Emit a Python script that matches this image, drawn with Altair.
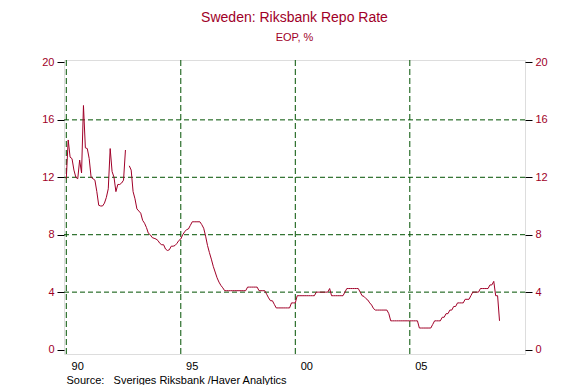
import altair as alt
import pandas as pd

# Monthly end-of-period rate, Jan 1990 .. Dec 2008 (None = no observation)
rate_1990 = [11.9, 14.6, 13.4, 13.3, 12.5, 12.0, 11.9, 13.2, 12.3, 17.0, 14.05, 14.0]
rate_1991 = [13.3, 12.0, 11.9, 11.8, 11.0, 10.05, 10.0, 10.0, 10.2, 10.6, 11.2, 14.0]
rate_1992 = [12.4, 12.0, 11.0, 11.5, 11.5, 11.6, 11.8, 13.9, None, 12.8, 12.5, 11.0]
rate_1993 = [10.5, 9.8, 9.65, 9.5, 9.0, 8.8, 8.5, 8.1, 8.0, 7.8, 7.75, 7.7]
rate_1994 = [7.6, 7.4, 7.3, 7.3, 7.0, 6.9, 6.95, 7.2, 7.2, 7.25, 7.4, 7.6]
rate_1995 = [7.7, 8.0, 8.2, 8.35, 8.4, 8.65, 8.9, 8.9, 8.9, 8.9, 8.9, 8.7]
rate_1996 = [8.45, 7.9, 7.25, 6.75, 6.3, 5.8, 5.4, 5.0, 4.7, 4.47, 4.3, 4.1]
rate_1997 = [4.1, 4.1, 4.1, 4.1, 4.1, 4.1, 4.1, 4.1, 4.1, 4.1, 4.1, 4.35]
rate_1998 = [4.35, 4.35, 4.35, 4.35, 4.35, 4.1, 4.1, 4.1, 4.1, 3.85, 3.6, 3.4]
rate_1999 = [3.4, 3.15, 2.9, 2.9, 2.9, 2.9, 2.9, 2.9, 2.9, 2.9, 3.25, 3.25]
rate_2000 = [3.25, 3.75, 3.75, 3.75, 3.75, 3.75, 3.75, 3.75, 3.75, 3.75, 3.75, 4.0]
rate_2001 = [4.0, 4.0, 4.0, 4.0, 4.0, 4.0, 4.25, 3.75, 3.75, 3.75, 3.75, 3.75]
rate_2002 = [3.75, 3.75, 4.0, 4.25, 4.25, 4.25, 4.25, 4.25, 4.25, 4.25, 4.0, 3.75]
rate_2003 = [3.7, 3.55, 3.45, 3.25, 3.1, 2.85, 2.75, 2.75, 2.75, 2.75, 2.75, 2.75]
rate_2004 = [2.75, 2.5, 2.0, 2.0, 2.0, 2.0, 2.0, 2.0, 2.0, 2.0, 2.0, 2.0]
rate_2005 = [2.0, 2.0, 2.0, 2.0, 2.0, 1.5, 1.5, 1.5, 1.5, 1.5, 1.5, 1.5]
rate_2006 = [1.75, 2.0, 2.0, 2.0, 2.0, 2.25, 2.25, 2.5, 2.5, 2.75, 2.75, 3.0]
rate_2007 = [3.0, 3.25, 3.25, 3.25, 3.25, 3.5, 3.5, 3.5, 3.75, 4.0, 4.0, 4.0]
rate_2008 = [4.0, 4.25, 4.25, 4.25, 4.25, 4.25, 4.5, 4.5, 4.75, 3.75, 3.75, 2.0]

all_years = [rate_1990, rate_1991, rate_1992, rate_1993, rate_1994, rate_1995,
             rate_1996, rate_1997, rate_1998, rate_1999, rate_2000, rate_2001,
             rate_2002, rate_2003, rate_2004, rate_2005, rate_2006, rate_2007,
             rate_2008]
start_year = 1990

grid_years = [1990, 1995, 2000, 2005]
grid_levels = [4, 8, 12, 16]
y_ticks = [0, 4, 8, 12, 16, 20]
x_ticks = list(range(1990, 2011))
x_label_pos = [1990.5, 1995.5, 2000.5, 2005.5]
x_label_text = ["90", "95", "00", "05"]

title_text = "Sweden: Riksbank Repo Rate"
subtitle_text = "EOP, %"
source_text = "Source:\u00a0\u00a0 Sveriges Riksbank /Haver Analytics"

# build table (break the line where there is no observation)
rows = []
seg = 0
for yi, yr in enumerate(all_years):
    for m, v in enumerate(yr):
        if v is None:
            seg += 1
            continue
        rows.append({"t": start_year + yi + m / 12.0, "rate": v, "seg": seg})
df = pd.DataFrame(rows)

RED = "#a00028"
GREEN = "#005200"
FONT = "Liberation Sans"

W, H = 461, 294
xscale = alt.Scale(domain=[1989.9, 2010.03], nice=False, zero=False)
yscale = alt.Scale(domain=[-0.31, 20.17], nice=False, zero=False)


def yaxis(orient):
    return alt.Axis(orient=orient, values=y_ticks, title=None, grid=False,
                    domain=False, tickColor="black", tickSize=7, tickWidth=1,
                    labelColor=RED, labelFontSize=11, labelPadding=3,
                    labelFont=FONT)


hgrid = alt.Chart(pd.DataFrame({"level": grid_levels})).mark_rule(
    color=GREEN, strokeDash=[5, 3], strokeWidth=1
).encode(y=alt.Y("level:Q", scale=yscale, axis=yaxis("right")))

vgrid = alt.Chart(pd.DataFrame({"year": grid_years})).mark_rule(
    color=GREEN, strokeDash=[6, 3], strokeWidth=1
).encode(x=alt.X("year:Q", scale=xscale, axis=None))

line = alt.Chart(df).mark_line(color=RED, strokeWidth=1).encode(
    x=alt.X("t:Q", scale=xscale,
            axis=alt.Axis(values=x_ticks, title=None, grid=False, domain=False,
                          labels=False, tickColor="black", tickWidth=2,
                          tickSize=7)),
    y=alt.Y("rate:Q", scale=yscale, axis=yaxis("left")),
    detail="seg:N",
)

xlabels = alt.Chart(pd.DataFrame({"pos": x_label_pos, "lab": x_label_text})).mark_text(
    align="center", baseline="alphabetic", fontSize=11, font=FONT, color="black"
).encode(x=alt.X("pos:Q", scale=xscale, axis=None), y=alt.value(H + 16),
         text="lab:N")

src = alt.Chart(pd.DataFrame({"s": [source_text]})).mark_text(
    align="left", baseline="alphabetic", fontSize=11, font=FONT, color="black"
).encode(x=alt.value(2.5), y=alt.value(H + 30), text="s:N")

chart = alt.layer(hgrid, vgrid, line, xlabels, src).resolve_scale(y="independent").properties(
    width=W, height=H,
    title=alt.Title(title_text, subtitle=subtitle_text, anchor="middle",
                    color=RED, subtitleColor=RED, fontSize=14, subtitleFontSize=11,
                    fontWeight="normal", font=FONT, subtitleFont=FONT,
                    offset=13, subtitlePadding=7),
    padding={"left": 56, "top": 52, "right": 40, "bottom": 31},
    autosize=alt.AutoSizeParams(type="none"),
).configure_view(stroke="black", strokeWidth=1).configure(font=FONT)

chart.save("out.html", embed_options={"renderer": "svg", "actions": False})
